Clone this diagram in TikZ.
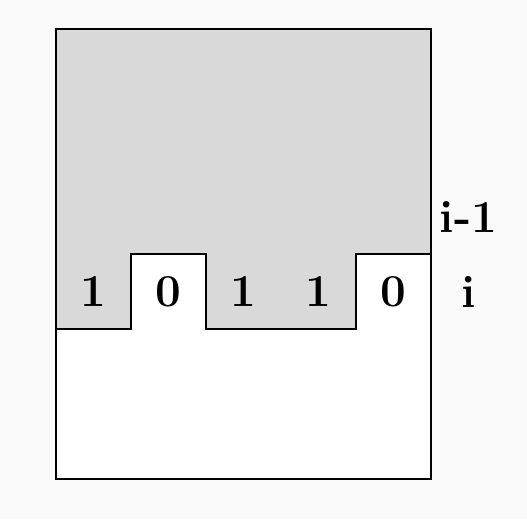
\documentclass[tikz,border=0pt]{standalone}
\usepackage{tikz}
\usetikzlibrary{positioning}
\definecolor{pagebg}{RGB}{250,250,250}
\definecolor{rowgray}{RGB}{217,217,217}

\begin{document}
\begin{tikzpicture}[line width=1.4pt,node distance=1.5cm,
	bit/.style={font=\fontsize{26}{30}\selectfont\bfseries,inner sep=0pt}]

\fill[pagebg] (0,0) rectangle (10.54,10.38);
\useasboundingbox (0,0) rectangle (10.54,10.38);

\fill[white] (1.12,0.8) rectangle (8.62,9.8);
\fill[rowgray] (1.12,9.8) -- (1.12,3.8) -- (2.62,3.8) -- (2.62,5.3) -- (4.12,5.3)
	-- (4.12,3.8) -- (7.12,3.8) -- (7.12,5.3) -- (8.62,5.3) -- (8.62,9.8) -- cycle;
\draw (1.12,3.8) -- (2.62,3.8) -- (2.62,5.3) -- (4.12,5.3)
	-- (4.12,3.8) -- (7.12,3.8) -- (7.12,5.3) -- (8.62,5.3);
\draw (1.12,0.8) rectangle (8.62,9.8);

\node[bit]   (b1)  at (1.87,4.55)   {1};
\node[bit]   (b2)  [right of=b1]    {0};
\node[bit]   (b3)  [right of=b2]    {1};
\node[bit]   (b4)  [right of=b3]    {1};
\node[bit]   (b5)  [right of=b4]    {0};

\node[bit]   (ri)   [right of=b5]   {i};
\node[bit]   (rim)  [above of=ri]   {i-1};

\end{tikzpicture}
\end{document}
